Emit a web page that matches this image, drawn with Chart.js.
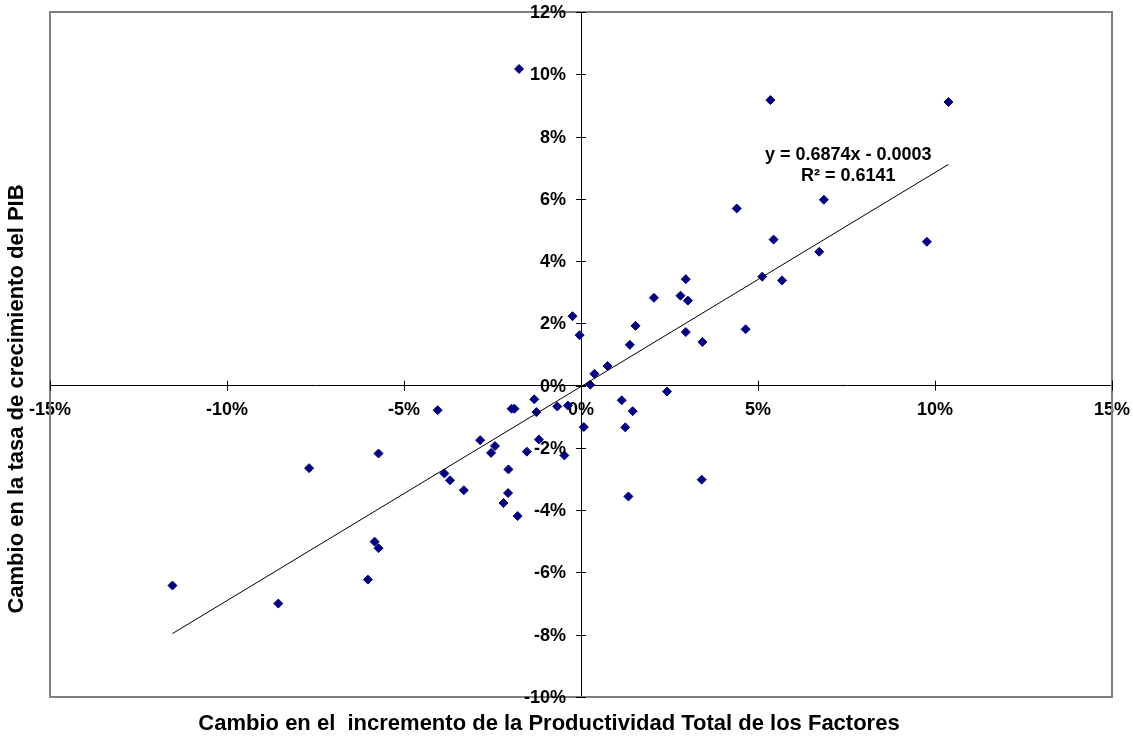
<!DOCTYPE html>
<html>
<head>
<meta charset="utf-8">
<script src="https://cdn.jsdelivr.net/npm/chart.js@4.4.0/dist/chart.umd.min.js"></script>
<style>
    html, body { margin: 0; padding: 0; background: #ffffff; }
    #wrap { width: 1133px; height: 738px; }
</style>
</head>
<body>
<div id="wrap"><canvas id="scatterChart" width="1133" height="738"></canvas></div>
<script>
// Values, in percentage points
const tfpChange = [
    -1.75, -0.24, -0.04, 0.26, 0.38, 0.75, 1.38, 1.54, 2.06, 2.81,
    2.96, 3.02, 2.96, 3.43, 2.43, 1.15, 4.40, 4.65, 5.12, 5.35,
    5.44, 5.68, 6.73, 6.86, 9.77, 10.38, -1.32, -4.05, -1.96, -1.88,
    -1.26, -0.67, -0.37, 0.08, -1.19, -2.85, -2.43, -2.54, -1.53, -0.47,
    -5.72, -7.68, -2.05, -3.86, -3.70, -3.31, -2.06, -2.19, -1.79, -5.83,
    -5.72, -6.02, -11.54, -8.55, 1.46, 1.25, 3.41, 1.34
];
const gdpChange = [
    10.17, 2.23, 1.62, 0.03, 0.38, 0.63, 1.31, 1.92, 2.82, 2.89,
    3.42, 2.73, 1.72, 1.40, -0.19, -0.47, 5.69, 1.81, 3.50, 9.17,
    4.69, 3.38, 4.30, 5.97, 4.62, 9.11, -0.44, -0.79, -0.74, -0.74,
    -0.85, -0.67, -0.64, -1.33, -1.73, -1.75, -1.94, -2.16, -2.12, -2.24,
    -2.18, -2.65, -2.69, -2.82, -3.04, -3.36, -3.45, -3.77, -4.19, -5.01,
    -5.22, -6.23, -6.42, -7.00, -0.82, -1.34, -3.02, -3.56
];
// Trendline as printed on the chart: y = 0.6874x - 0.0003
const trendSlope = 0.6874;
const trendIntercept = -0.0003;
const trendR2 = 0.6141;
const xTicks = [-15, -10, -5, 0, 5, 10, 15];
const yTicks = [-10, -8, -6, -4, -2, 0, 2, 4, 6, 8, 10, 12];

const xTitle = "Cambio en el  incremento de la Productividad Total de los Factores";
const yTitle = "Cambio en la tasa de crecimiento del PIB";

const FONT = "'Liberation Sans', Arial, sans-serif";

const points = tfpChange.map((x, i) => ({ x: x, y: gdpChange[i] }));
const xMin = Math.min(...tfpChange);
const xMax = Math.max(...tfpChange);
const trendPoints = [xMin, xMax].map(x => ({ x: x, y: trendSlope * x + trendIntercept * 100 }));

// Frame, cross ticks, titles and the trendline label
const decorPlugin = {
    id: "decor",
    beforeDatasetsDraw(chart) {
        const { ctx, chartArea, scales } = chart;
        ctx.save();
        ctx.strokeStyle = "#808080";
        ctx.lineWidth = 2;
        ctx.strokeRect(chartArea.left, chartArea.top, chartArea.right - chartArea.left, chartArea.bottom - chartArea.top);

        const x0 = scales.x.getPixelForValue(0);
        const y0 = scales.y.getPixelForValue(0);
        ctx.strokeStyle = "#000000";
        ctx.lineWidth = 1;
        ctx.beginPath();
        xTicks.forEach(v => {
            const px = Math.round(scales.x.getPixelForValue(v)) + 0.5;
            ctx.moveTo(px, y0 - 5);
            ctx.lineTo(px, y0 + 5);
        });
        yTicks.forEach(v => {
            const py = Math.round(scales.y.getPixelForValue(v)) + 0.5;
            ctx.moveTo(x0 - 5, py);
            ctx.lineTo(x0 + 5, py);
        });
        ctx.stroke();
        ctx.restore();
    },
    afterDraw(chart) {
        const { ctx, scales } = chart;
        ctx.save();
        ctx.fillStyle = "#000000";
        ctx.textAlign = "center";
        ctx.textBaseline = "middle";

        // y tick labels, right aligned a little left of the vertical axis
        const x0 = scales.x.getPixelForValue(0);
        ctx.font = "bold 18px " + FONT;
        ctx.textAlign = "right";
        yTicks.forEach(v => {
            ctx.fillText(v + "%", x0 - 15, scales.y.getPixelForValue(v) + 1);
        });

        // trendline label
        ctx.textAlign = "center";
        ctx.fillText("y = " + trendSlope.toFixed(4) + "x - " + Math.abs(trendIntercept).toFixed(4),
            scales.x.getPixelForValue(7.55), scales.y.getPixelForValue(7.4));
        ctx.fillText("R\u00b2 = " + trendR2.toFixed(4),
            scales.x.getPixelForValue(7.55), scales.y.getPixelForValue(6.72));

        // axis titles
        ctx.font = "bold 22px " + FONT;
        ctx.fillText(xTitle, 549, 724);
        ctx.translate(17, 399);
        ctx.rotate(-Math.PI / 2);
        ctx.fillText(yTitle, 0, 0);
        ctx.restore();
    }
};

new Chart(document.getElementById("scatterChart"), {
    type: "scatter",
    data: {
        datasets: [{
            label: "Trend",
            type: "line",
            data: trendPoints,
            borderColor: "#000000",
            borderWidth: 1,
            pointRadius: 0,
            fill: false,
            order: 0
        }, {
            label: "Países",
            data: points,
            backgroundColor: "#000080",
            borderColor: "#000080",
            borderWidth: 1,
            pointStyle: "rectRot",
            pointRadius: 4.5,
            pointHoverRadius: 4.5,
            order: 1
        }]
    },
    plugins: [decorPlugin],
    options: {
        responsive: false,
        animation: false,
        devicePixelRatio: 1,
        layout: {
            padding: { left: 50, top: 12, right: 21, bottom: 41 }
        },
        plugins: {
            legend: { display: false },
            tooltip: { enabled: false }
        },
        scales: {
            x: {
                type: "linear",
                position: { y: 0 },
                min: -15,
                max: 15,
                afterBuildTicks: axis => { axis.ticks = xTicks.map(v => ({ value: v })); },
                // the edge labels may overhang the frame, like in the original
                afterFit: axis => { axis.paddingLeft = 0; axis.paddingRight = 0; },
                grid: { display: false },
                border: { display: true, color: "#000000", width: 1 },
                ticks: {
                    color: "#000000",
                    padding: 6,
                    font: { family: FONT, size: 18, weight: "bold" },
                    callback: v => v + "%"
                }
            },
            y: {
                type: "linear",
                position: { x: 0 },
                min: -10,
                max: 12,
                afterBuildTicks: axis => { axis.ticks = yTicks.map(v => ({ value: v })); },
                grid: { display: false },
                border: { display: true, color: "#000000", width: 1 },
                ticks: { display: false }
            }
        }
    }
});
</script>
</body>
</html>
